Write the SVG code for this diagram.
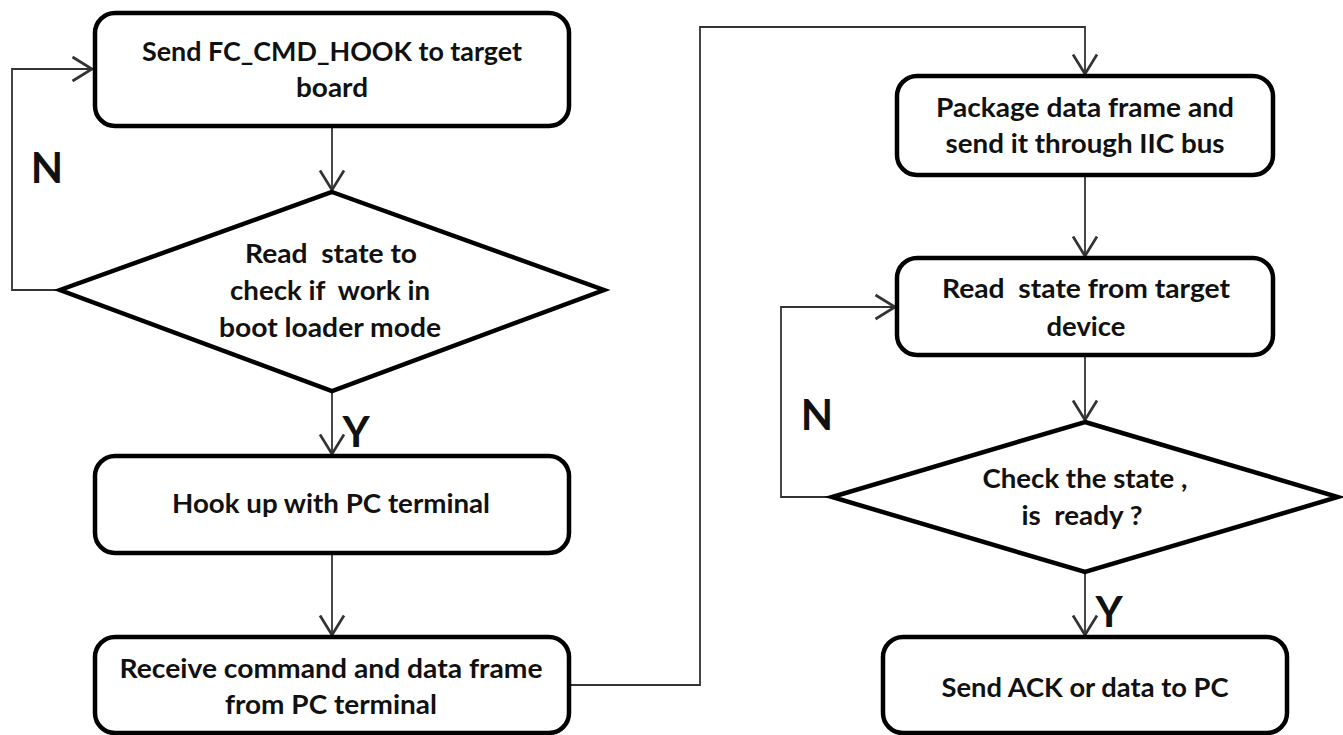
<svg xmlns="http://www.w3.org/2000/svg" width="1343" height="735" viewBox="0 0 1343 735">
<style>
.box{fill:#fff;stroke:#000;stroke-width:4.5}
.t{font-family:Lato,"Liberation Sans",sans-serif;font-weight:bold;font-size:27px;fill:#111;text-anchor:middle;white-space:pre}
.lbl{font-family:Lato,"Liberation Sans",sans-serif;font-weight:bold;font-size:42px;fill:#111;text-anchor:middle}
.c{fill:none;stroke:#333;stroke-width:1.8}
</style>
<defs>
<marker id="a" markerUnits="userSpaceOnUse" markerWidth="30" markerHeight="30" refX="0" refY="0" viewBox="-16 -10 20 20" orient="auto">
<path d="M-13,-8 L0,0 L-13,8" fill="none" stroke="#333" stroke-width="1.8"/>
</marker>
</defs>
<rect width="1343" height="735" fill="#fff"/>
<g id="connectors">
<path class="c" d="M332,126 V190" marker-end="url(#a)"/>
<path class="c" d="M60,290 H12 V69 H92" marker-end="url(#a)"/>
<path class="c" d="M332,391 V454" marker-end="url(#a)"/>
<path class="c" d="M332,553 V635" marker-end="url(#a)"/>
<path class="c" d="M569,685 H700 V27 H1085 V74" marker-end="url(#a)"/>
<path class="c" d="M1085,175 V256" marker-end="url(#a)"/>
<path class="c" d="M1085,355 V420" marker-end="url(#a)"/>
<path class="c" d="M832,497 H781 V307 H895" marker-end="url(#a)"/>
<path class="c" d="M1085,572 V635" marker-end="url(#a)"/>
</g>
<g id="labels">
<text class="lbl" x="47" y="183">N</text>
<text class="lbl" x="356" y="447">Y</text>
<text class="lbl" x="817" y="430">N</text>
<text class="lbl" x="1109" y="627">Y</text>
</g>
<g id="n1">
<rect class="box" x="95" y="13" width="474" height="113" rx="20"/>
<text class="t" x="332" y="61" textLength="380" lengthAdjust="spacingAndGlyphs">Send FC_CMD_HOOK to target</text>
<text class="t" x="332" y="97" textLength="72" lengthAdjust="spacingAndGlyphs">board</text>
</g>
<g id="n2">
<polygon class="box" points="332,192 604,290 332,391 60,290"/>
<text class="t" x="331" y="263" textLength="172" lengthAdjust="spacingAndGlyphs">Read  state to</text>
<text class="t" x="330" y="300" textLength="200" lengthAdjust="spacingAndGlyphs">check if  work in</text>
<text class="t" x="330" y="337" textLength="222" lengthAdjust="spacingAndGlyphs">boot loader mode</text>
</g>
<g id="n3">
<rect class="box" x="95" y="456" width="474" height="97" rx="20"/>
<text class="t" x="331" y="513" textLength="318" lengthAdjust="spacingAndGlyphs">Hook up with PC terminal</text>
</g>
<g id="n4">
<rect class="box" x="95" y="637" width="474" height="96" rx="20"/>
<text class="t" x="331" y="678" textLength="423" lengthAdjust="spacingAndGlyphs">Receive command and data frame</text>
<text class="t" x="331" y="714" textLength="212" lengthAdjust="spacingAndGlyphs">from PC terminal</text>
</g>
<g id="n5">
<rect class="box" x="897" y="76" width="376" height="99" rx="20"/>
<text class="t" x="1085" y="117" textLength="298" lengthAdjust="spacingAndGlyphs">Package data frame and</text>
<text class="t" x="1085" y="153" textLength="279" lengthAdjust="spacingAndGlyphs">send it through IIC bus</text>
</g>
<g id="n6">
<rect class="box" x="897" y="258" width="376" height="97" rx="20"/>
<text class="t" x="1086" y="298" textLength="288" lengthAdjust="spacingAndGlyphs">Read  state from target</text>
<text class="t" x="1086" y="336" textLength="79" lengthAdjust="spacingAndGlyphs">device</text>
</g>
<g id="n7">
<polygon class="box" points="1085,422 1338,497 1085,572 832,497"/>
<text class="t" x="1085" y="488" textLength="205" lengthAdjust="spacingAndGlyphs">Check the state ,</text>
<text class="t" x="1082" y="525" textLength="121" lengthAdjust="spacingAndGlyphs">is  ready ?</text>
</g>
<g id="n8">
<rect class="box" x="883" y="637" width="404" height="96" rx="20"/>
<text class="t" x="1085" y="697" textLength="287" lengthAdjust="spacingAndGlyphs">Send ACK or data to PC</text>
</g>
</svg>
